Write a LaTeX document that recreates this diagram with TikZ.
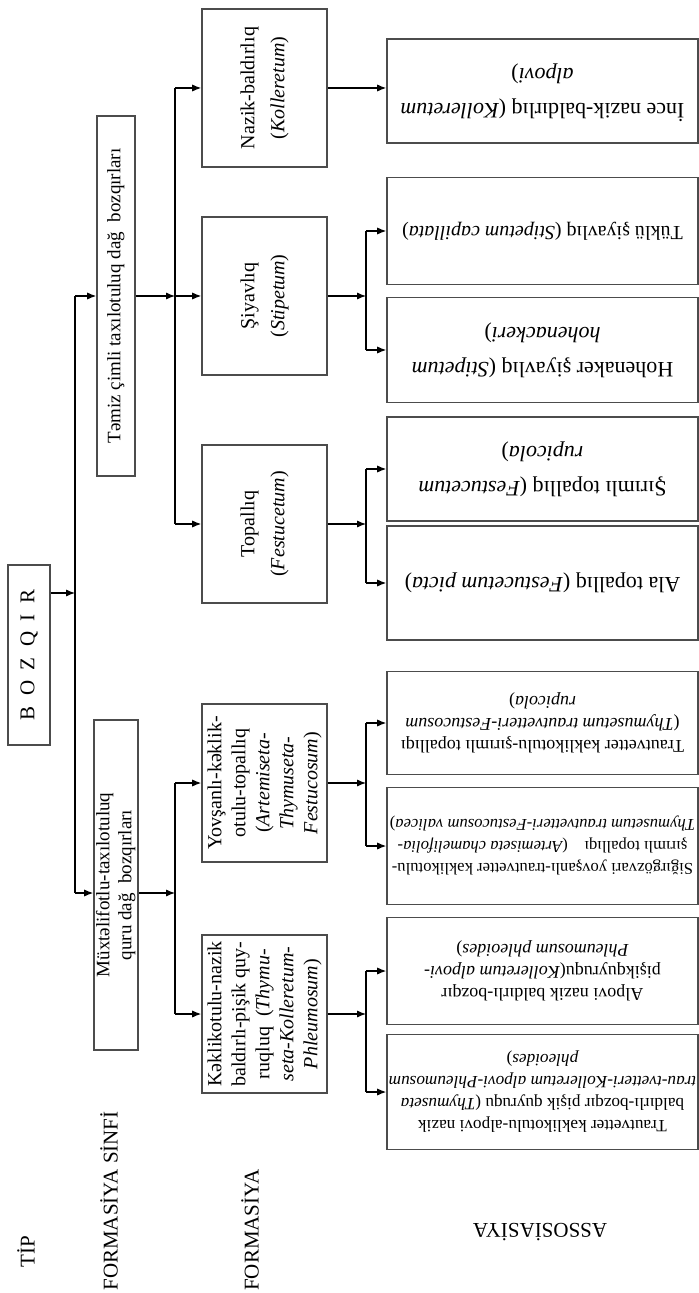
\documentclass[tikz,border=0pt]{standalone}
\usepackage{fontspec}
\setmainfont{Liberation Serif}
\usepackage{graphicx}
\usetikzlibrary{arrows.meta,positioning}
\newcommand{\uptxt}[1]{\rotatebox{90}{\begin{tabular}{@{}c@{}}#1\end{tabular}}}
\newcommand{\dntxt}[1]{\rotatebox{180}{\begin{tabular}{@{}c@{}}#1\end{tabular}}}

\begin{document}
\begin{tikzpicture}[
    x=0.5pt, y=-0.5pt,
    box/.style={draw=black!70, line width=0.8pt, inner sep=0pt, font=\fontsize{10}{12}\selectfont},
    tipbox/.style={box, minimum width=21pt, minimum height=90pt, font=\fontsize{10.5}{12}\selectfont},
    classbox/.style={box, minimum width=19pt, font=\fontsize{9.5}{11}\selectfont},
    formbox/.style={box, minimum width=62.5pt, minimum height=79pt},
    assocbox/.style={box, minimum width=155.5pt, font=\fontsize{11}{13}\selectfont},
    smallassoc/.style={assocbox, font=\fontsize{9}{11}\selectfont},
    lbl/.style={inner sep=0pt, font=\fontsize{10.5}{12}\selectfont},
    arr/.style={-{Latex[length=4.5pt,width=3.6pt]}, line width=0.6pt},
    link/.style={line width=0.6pt},
]
\useasboundingbox (0,0) rectangle (699,1293);

% Tip
\node[tipbox] (bozqir) at (29,655) {\rotatebox{90}{B\ \ O\ \ Z\ \ Q\ \ I\ \ R}};

% Formasiya sinfi
\node[classbox, minimum height=180pt] (temiz) at (116,296) {\uptxt{Təmiz çimli taxılotuluq dağ\ \ bozqırları}};
\node[classbox, minimum height=165pt] (muxtelif) at (116,885) {\uptxt{Müxtəlifotlu-taxılotuluq\\quru dağ\ \ bozqırları}};

% Formasiya
\node[formbox] (nazik) at (264.5,88) {\uptxt{Nazik-baldırlıq\\[3pt](\textit{Kolleretum})}};
\node[formbox] (siyav) at (264.5,296) {\uptxt{Şiyavlıq\\[3pt](\textit{Stipetum})}};
\node[formbox] (topal) at (264.5,524) {\uptxt{Topallıq\\[3pt](\textit{Festucetum})}};
\node[formbox] (yovsan) at (264.5,783) {\uptxt{Yovşanlı-kəklik-\\otulu-topallıq\\(\textit{Artemiseta-}\\\textit{Thymuseta-}\\\textit{Festucosum})}};
\node[formbox] (keklik) at (264.5,1014) {\uptxt{Kəklikotulu-nazik\\baldırlı-pişik quy-\\ruqluq\ \ (\textit{Thymu-}\\\textit{seta-Kolleretum-}\\\textit{Phleumosum})}};

% Assosiasiya
\node[assocbox, minimum height=52pt] (ince) at (542.5,91) {\dntxt{İnce nazik-baldırlıq (\textit{Kolleretum}\\[4.5pt]\textit{alpovi})}};
\node[assocbox, minimum height=53.5pt, font=\fontsize{10}{12}\selectfont] (tuklu) at (542.5,231) {\dntxt{Tüklü şiyavlıq (\textit{Stipetum capillata})}};
\node[assocbox, minimum height=52.5pt] (hohen) at (542.5,350) {\dntxt{Hohenaker şiyavlıq (\textit{Stipetum}\\[4.5pt]\textit{hohenackeri})}};
\node[assocbox, minimum height=52pt] (sirim) at (542.5,469) {\dntxt{Şırımlı topallıq (\textit{Festucetum}\\[4.5pt]\textit{rupicola})}};
\node[assocbox, minimum height=57pt] (ala) at (542.5,583) {\dntxt{Ala topallıq (\textit{Festucetum picta})}};
\node[smallassoc, minimum height=51.5pt] (trauts) at (542.5,723) {\dntxt{Trautvetter kəklikotulu-şırımlı topallıqı\\(\textit{Thymusetum trautvetteri-Festucosum}\\\textit{rupicola})}};
\node[smallassoc, minimum height=58.5pt, font=\fontsize{8.3}{11}\selectfont] (sigir) at (542.5,846) {\dntxt{Siğırgözvari yovşanlı-trautvetter kəklikotulu-\\şırımlı topallıqı\quad(\textit{Artemiseta chamelifolia-}\\\textit{Thymusetum trautvetteri-Festucosum valicea})}};
\node[smallassoc, minimum height=53.5pt] (alpov) at (542.5,971) {\dntxt{Alpovi nazik baldırlı-bozqır\\pişikquyruqu(\textit{Kolleretum alpovi-}\\\textit{Phleumosum phleoides})}};
\node[smallassoc, minimum height=57.5pt, font=\fontsize{8.6}{11}\selectfont] (trauta) at (542.5,1092) {\dntxt{Trautvetter kəklikotulu-alpovi nazik\\baldırlı-bozqır pişik quyruqu (\textit{Thymuseta}\\\textit{trau-tvetteri-Kolleretum alpovi-Phleumosum}\\\textit{phleoides})}};

% Bottom labels
\node[lbl, rotate=90] (tip) at (26,1252) {TİP};
\node[lbl, rotate=90] (fsinfi) at (109,1201) {FORMASİYA SİNFİ};
\node[lbl, rotate=90] (forma) at (250,1230) {FORMASİYA};
\node[lbl, rotate=180] (assoc) at (540,1232) {ASSOSİASİYA};

% Junctions
\coordinate (j0) at (75,593);
\coordinate (t0) at (75,296);
\coordinate (b0) at (75,893);
\coordinate (j1) at (175,296);
\coordinate (j2) at (175,893);
\coordinate (a1) at (366,296);
\coordinate (a2) at (366,524);
\coordinate (a3) at (366,783);
\coordinate (a4) at (366,1014);

% Arrows
\draw[arr] (bozqir.east |- j0) -- (j0);
\draw[link] (t0) -- (b0);
\draw[arr] (t0) -- (temiz.west);
\draw[arr] (b0) -- (muxtelif.west |- b0);

\draw[arr] (temiz.east) -- (j1);
\draw[link] (j1 |- nazik.west) -- (j1 |- topal.west);
\draw[arr] (j1 |- nazik.west) -- (nazik.west);
\draw[arr] (j1) -- (siyav.west);
\draw[arr] (j1 |- topal.west) -- (topal.west);

\draw[arr] (muxtelif.east |- j2) -- (j2);
\draw[link] (j2 |- yovsan.west) -- (j2 |- keklik.west);
\draw[arr] (j2 |- yovsan.west) -- (yovsan.west);
\draw[arr] (j2 |- keklik.west) -- (keklik.west);

\draw[arr] (nazik.east) -- (nazik.east -| ince.west);

\draw[arr] (siyav.east) -- (a1);
\draw[link] (a1 |- tuklu.west) -- (a1 |- hohen.west);
\draw[arr] (a1 |- tuklu.west) -- (tuklu.west);
\draw[arr] (a1 |- hohen.west) -- (hohen.west);

\draw[arr] (topal.east) -- (a2);
\draw[link] (a2 |- sirim.west) -- (a2 |- ala.west);
\draw[arr] (a2 |- sirim.west) -- (sirim.west);
\draw[arr] (a2 |- ala.west) -- (ala.west);

\draw[arr] (yovsan.east) -- (a3);
\draw[link] (a3 |- trauts.west) -- (a3 |- sigir.west);
\draw[arr] (a3 |- trauts.west) -- (trauts.west);
\draw[arr] (a3 |- sigir.west) -- (sigir.west);

\draw[arr] (keklik.east) -- (a4);
\draw[link] (a4 |- alpov.west) -- (a4 |- trauta.west);
\draw[arr] (a4 |- alpov.west) -- (alpov.west);
\draw[arr] (a4 |- trauta.west) -- (trauta.west);
\end{tikzpicture}
\end{document}
